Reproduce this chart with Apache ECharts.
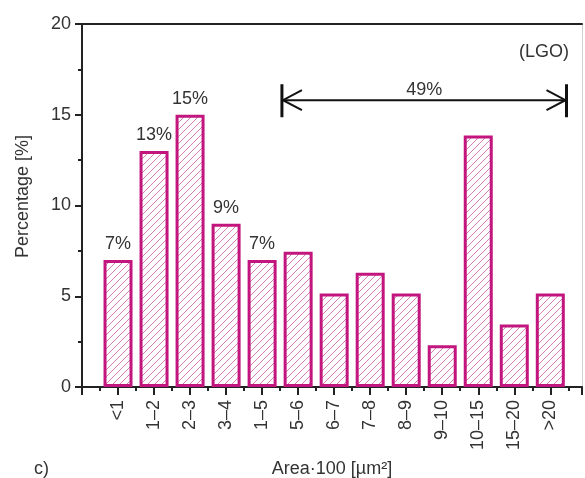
<!DOCTYPE html>
<html>
<head>
<meta charset="utf-8">
<script src="https://cdn.jsdelivr.net/npm/echarts@6/dist/echarts.min.js"></script>
<style>
  html, body { margin: 0; padding: 0; background: #fff; }
  #chart { width: 585px; height: 478px; }
</style>
</head>
<body>
<div id="chart"></div>
<script>
// Size classes of grain area (x100 µm²)
const categories = ['<1', '1–2', '2–3', '3–4', '1–5', '5–6', '6–7', '7–8', '8–9', '9–10', '10–15', '15–20', '>20'];
// Share of grains in each class [%]
const percentages = [7, 13, 15, 9, 7, 7.45, 5.15, 6.3, 5.15, 2.3, 13.85, 3.45, 5.15];
// Which bars carry a value label
const labelled = [true, true, true, true, true, false, false, false, false, false, false, false, false];
// Span of the bracket annotation (class index range, level in %, text)
const bracketFrom = 4.55;
const bracketTo = 12.45;
const bracketLevel = 15.8;
const bracketText = '49%';
const yTicks = { min: 0, max: 20, interval: 5 };

const FONT = 'Liberation Sans, Arial, sans-serif';
const MAGENTA = '#c2167e';

// Diagonal hatch fill for the bars
function hatchPattern() {
  const s = 7;
  const c = document.createElement('canvas');
  c.width = s; c.height = s;
  const g = c.getContext('2d');
  g.fillStyle = '#ffffff';
  g.fillRect(0, 0, s, s);
  g.strokeStyle = '#d67db4';
  g.lineWidth = 1;
  g.beginPath();
  g.moveTo(-1, s + 1); g.lineTo(s + 1, -1);
  g.moveTo(-1, 1); g.lineTo(1, -1);
  g.moveTo(s - 1, s + 1); g.lineTo(s + 1, s - 1);
  g.stroke();
  return c;
}

const barData = percentages.map((v, i) => ({
  value: [i, v],
  label: { show: labelled[i] }
}));

const chart = echarts.init(document.getElementById('chart'), null, { renderer: 'canvas' });

chart.setOption({
  animation: false,
  backgroundColor: '#ffffff',
  textStyle: { fontFamily: FONT },
  title: [
    { text: '(LGO)', right: 11, top: 38,
      textStyle: { fontFamily: FONT, fontSize: 18, fontWeight: 'normal', color: '#333' } },
    { text: 'c)', left: 29, top: 455,
      textStyle: { fontFamily: FONT, fontSize: 18, fontWeight: 'normal', color: '#333' } }
  ],
  grid: { left: 82, top: 24, right: 3, bottom: 91, containLabel: false, outerBoundsMode: 'none' },
  xAxis: [
    {
      type: 'value', min: -1, max: 12.88, interval: 1,
      name: 'Area·100 [µm²]', nameLocation: 'middle', nameGap: 73,
      nameTextStyle: { fontFamily: FONT, fontSize: 18, color: '#333' },
      axisLine: { show: true, onZero: false, lineStyle: { color: '#222', width: 2 } },
      axisTick: { show: true, inside: false, length: 8, lineStyle: { color: '#222', width: 2 } },
      minorTick: { show: true, splitNumber: 2, length: 4, lineStyle: { color: '#222', width: 2 } },
      splitLine: { show: false },
      minorSplitLine: { show: false },
      axisLabel: {
        rotate: 90, margin: 13, fontSize: 18, color: '#333', fontFamily: FONT,
        formatter: v => (Number.isInteger(v) && v >= 0 && v < categories.length) ? categories[v] : ''
      }
    },
    {
      type: 'value', position: 'top', min: -1, max: 12.88,
      axisLine: { show: true, onZero: false, lineStyle: { color: '#222', width: 2 } },
      axisTick: { show: false }, axisLabel: { show: false }, splitLine: { show: false }
    }
  ],
  yAxis: [
    {
      type: 'value', min: yTicks.min, max: yTicks.max, interval: yTicks.interval,
      name: 'Percentage [%]', nameLocation: 'middle', nameGap: 50,
      nameTextStyle: { fontFamily: FONT, fontSize: 18, color: '#333', padding: [0, 0, 0, 18] },
      axisLine: { show: true, onZero: false, lineStyle: { color: '#222', width: 2 } },
      axisTick: { show: true, length: 7, lineStyle: { color: '#222', width: 2 } },
      minorTick: { show: true, splitNumber: 2, length: 4, lineStyle: { color: '#222', width: 2 } },
      splitLine: { show: false },
      axisLabel: { margin: 11, fontSize: 18, color: '#333', fontFamily: FONT }
    },
    {
      type: 'value', position: 'right', min: yTicks.min, max: yTicks.max,
      axisLine: { show: true, onZero: false, lineStyle: { color: '#d0d0d0', width: 1 } },
      axisTick: { show: false }, axisLabel: { show: false }, splitLine: { show: false }
    }
  ],
  series: [
    {
      type: 'bar',
      xAxisIndex: 0, yAxisIndex: 0,
      barWidth: 29,
      data: barData,
      itemStyle: {
        color: { image: hatchPattern(), repeat: 'repeat' },
        borderColor: MAGENTA,
        borderWidth: 3
      },
      label: {
        position: 'top', distance: 7,
        fontSize: 18, color: '#333', fontFamily: FONT,
        formatter: p => p.value[1] + '%'
      }
    },
    {
      // Bracket spanning the larger size classes
      type: 'custom',
      xAxisIndex: 0, yAxisIndex: 0,
      data: [[bracketFrom, bracketTo, bracketLevel]],
      encode: { x: [0, 1], y: 2 },
      z: 5,
      renderItem: function (params, api) {
        const a = api.coord([api.value(0), api.value(2)]);
        const b = api.coord([api.value(1), api.value(2)]);
        const y = a[1];
        const stroke = { stroke: '#111', lineWidth: 2, fill: null };
        const heavy = { stroke: '#111', lineWidth: 3, fill: null };
        return {
          type: 'group',
          children: [
            { type: 'line', shape: { x1: a[0], y1: y, x2: b[0], y2: y }, style: stroke },
            { type: 'line', shape: { x1: a[0], y1: y - 16, x2: a[0], y2: y + 17 }, style: heavy },
            { type: 'line', shape: { x1: b[0], y1: y - 16, x2: b[0], y2: y + 17 }, style: heavy },
            { type: 'polyline', shape: { points: [[a[0] + 20, y - 10], [a[0] + 1, y], [a[0] + 20, y + 10]] }, style: stroke },
            { type: 'polyline', shape: { points: [[b[0] - 20, y - 10], [b[0] - 1, y], [b[0] - 20, y + 10]] }, style: stroke },
            {
              type: 'text',
              style: {
                text: bracketText, x: (a[0] + b[0]) / 2, y: y - 1,
                align: 'center', verticalAlign: 'bottom',
                font: '18px ' + FONT, fill: '#333'
              }
            }
          ]
        };
      }
    }
  ]
});
</script>
</body>
</html>
